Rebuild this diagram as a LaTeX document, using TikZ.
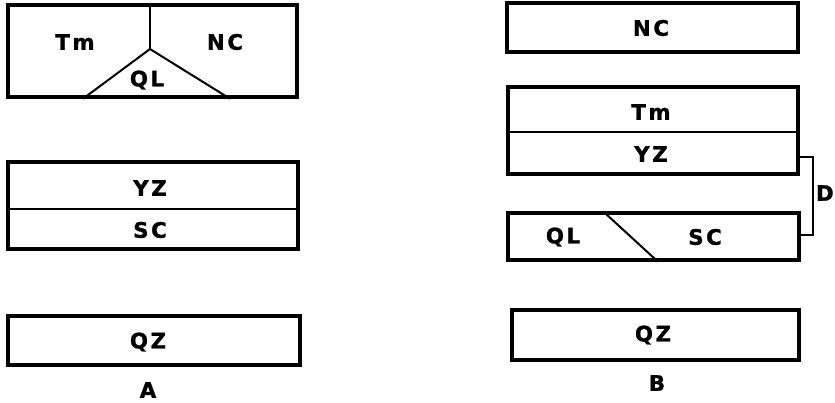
\documentclass[tikz,border=0pt]{standalone}
\usepackage{fontspec}
\setmainfont{DejaVu Sans}
\newfontfamily\lblfont{DejaVu Sans}[LetterSpace=12, BoldFeatures={FakeBold=1.2}]
\usetikzlibrary{fit}
\begin{document}
\begin{tikzpicture}[x=0.75pt,y=-0.75pt,
  box/.style={draw, line width=2.6pt, inner sep=0pt, rectangle},
  inner/.style={line width=1.5pt},
  brace/.style={line width=1.2pt},
  lbl/.style={font=\fontsize{16}{18}\lblfont\bfseries, inner sep=0pt, anchor=center}]
\useasboundingbox (0,0) rectangle (835,403);

% ---- Panel A ----
\node[box, fit={(8,5) (297,97)}] (a1) {};
\coordinate (apex) at (150,49);
\draw[inner] (a1.north -| apex) -- (apex);
\draw[inner] (a1.south -| 83,0) -- (apex) -- (a1.south -| 230,0);
\node[lbl] (a1tm) at (75,42) {Tm};
\node[lbl] (a1nc) at (225,42) {NC};
\node[lbl] (a1ql) at (147,80) {QL};

\node[box, fit={(8,162) (298,249)}] (a2) {};
\draw[inner] (a2.west |- 0,209) -- (a2.east |- 0,209);
\node[lbl] (a2yz) at (150,188) {YZ};
\node[lbl] (a2sc) at (150,230) {SC};

\node[box, fit={(8,316) (300,365)}] (a3) {};
\node[lbl] (a3qz) at (148,342) {QZ};
\node[lbl] (labA) at (148,390) {A};

% ---- Panel B ----
\node[box, fit={(507,3) (798,52)}] (b1) {};
\node[lbl] (b1nc) at (651,28) {NC};

\node[box, fit={(508,87) (798,174)}] (b2) {};
\draw[inner] (b2.west |- 0,132) -- (b2.east |- 0,132);
\node[lbl] (b2tm) at (651,112) {Tm};
\node[lbl] (b2yz) at (651,154) {YZ};

\node[box, fit={(508,213) (799,260)}] (b3) {};
\draw[inner] (b3.north -| 603,0) -- (b3.south -| 658,0);
\node[lbl] (b3ql) at (563,237) {QL};
\node[lbl] (b3sc) at (705,237) {SC};

\node[box, fit={(512,310) (799,360)}] (b4) {};
\node[lbl] (b4qz) at (653,335) {QZ};
\node[lbl] (labB) at (657,383) {B};

% bracket joining the YZ and SC layers
\coordinate (dtop) at (813,157);
\coordinate (dbot) at (813,235);
\draw[brace] (b2.east |- dtop) -- (dtop) -- (dbot) -- (b3.east |- dbot);
\node[lbl, anchor=east] (labD) at (834,193) {D};
\end{tikzpicture}
\end{document}
